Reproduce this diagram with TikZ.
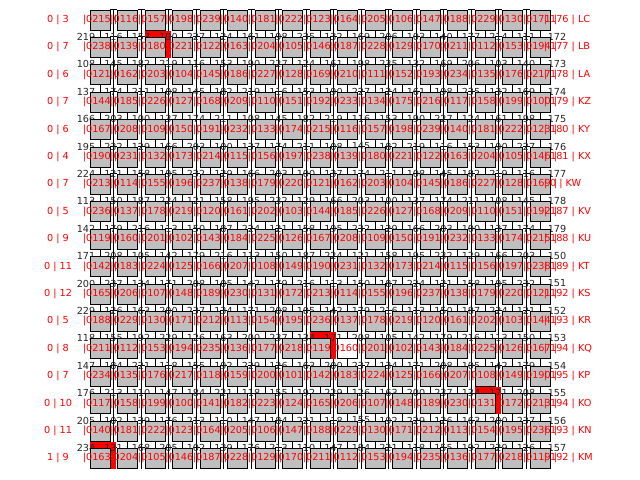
\documentclass[tikz,border=0pt]{standalone}
\usepackage{fontspec}
\setmainfont{DejaVu Sans}
\usetikzlibrary{calc}
\pgfdeclarelayer{wires}
\pgfdeclarelayer{marks}
\pgfsetlayers{wires,marks,main}
\tikzset{
  cell/.style={draw=black, fill=black!25, minimum size=0.2in, inner sep=0pt, line width=0.7pt},
  wire/.style={draw=black, line width=0.6pt},
  tag/.style={text=red, inner sep=0pt, font=\fontsize{7}{8}\selectfont},
  pin/.style={text=black!85, inner sep=0pt, font=\fontsize{7}{8}\selectfont},
  hot/.style={fill=red}
}
\begin{document}
\begin{tikzpicture}[x=0.01in, y=-0.01in]
\useasboundingbox (0,0) rectangle (640,480);
\foreach \j in {0,...,16} {
  \foreach \i in {0,...,16} {
    \ifnum\i=9 \ifnum\j=12
      \node[cell, fill=white] (b-\i-\j) at (100+27.5*\i, 20+27.4*\j) {};
    \else
      \node[cell] (b-\i-\j) at (100+27.5*\i, 20+27.4*\j) {};
    \fi \else
      \node[cell] (b-\i-\j) at (100+27.5*\i, 20+27.4*\j) {};
    \fi
  }
}
\begin{pgfonlayer}{wires}
\foreach \i in {0,...,16} {
  \foreach \j [evaluate=\j as \k using int(\j+1)] in {0,...,15} {
    \draw[wire] (b-\i-\j.south) -- (b-\i-\k.north);
  }
}
\foreach \j in {0,...,16} {
  \foreach \i [evaluate=\i as \k using int(\i+1)] in {0,...,15} {
    \draw[wire] (b-\i-\j.north east) -- (b-\k-\j.north west);
  }
}
\foreach \i [evaluate=\i as \k using int(\i+1)] in {0,...,15} {
  \draw[wire] ($(b-\i-0.north east)!.5!(b-\k-0.north west)$) -- ($(b-\i-16.south east)!.5!(b-\k-16.south west)$);
}
\end{pgfonlayer}
\begin{pgfonlayer}{marks}
\foreach \i/\j in {2/1, 8/12, 14/14, 0/16} {
  \fill[hot] ($(b-\i-\j.north west)+(0,-6)$) rectangle ($(b-\i-\j.south east)+(6,0)$);
}
\foreach \j in {1,...,16} {
  \foreach \i in {0,...,16} {
    \pgfmathtruncatemacro\v{100+mod(90+37*\i+29*\j,140)}
    \node[pin] (p-\i-\j) at ($(b-\i-\j.north)+(-14,0)$) {\v};
  }
  \pgfmathtruncatemacro\w{150+mod(21+\j,30)}
  \node[pin] (q-\j) at ($(b-16-\j.north)+(17,0)$) {\w};
}
\end{pgfonlayer}
\foreach \j in {0,...,16} {
  \foreach \i in {0,...,16} {
    \pgfmathtruncatemacro\v{100+mod(115+41*\i+23*\j,140)}
    \node[tag] (t-\i-\j) at (b-\i-\j) {|0\v\ |};
  }
}
\foreach \l/\n/\code [count=\j from 0] in {0 | 3/176/LC, 0 | 7/177/LB, 0 | 6/178/LA, 0 | 7/179/KZ, 0 | 6/180/KY, 0 | 4/181/KX, 0 | 7/0/KW, 0 | 5/187/KV, 0 | 9/188/KU, 0 | 11/189/KT, 0 | 12/192/KS, 0 | 5/193/KR, 0 | 8/194/KQ, 0 | 7/195/KP, 0 | 10/194/KO, 0 | 11/193/KN, 1 | 9/192/KM} {
  \node[tag] (l-\j) at ($(b-0-\j)+(-42,0)$) {\l};
  \node[tag, anchor=west] (r-\j) at ($(b-16-\j.east)+(-7,0)$) {| \n\ | \code};
}
\end{tikzpicture}
\end{document}
